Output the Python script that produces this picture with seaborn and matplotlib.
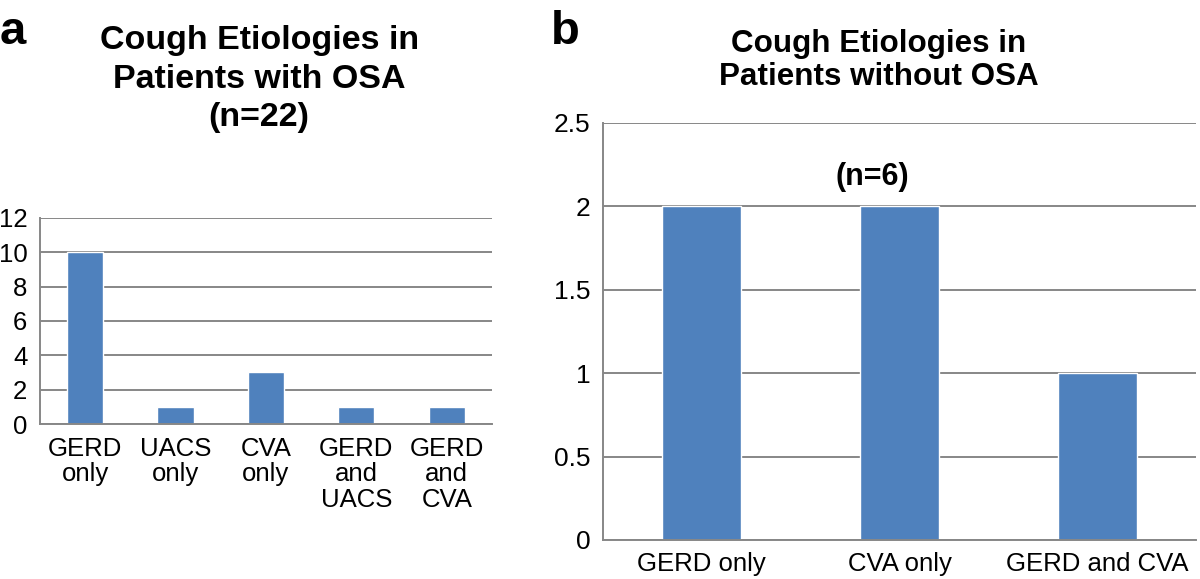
import matplotlib
matplotlib.use("Agg")
import matplotlib.pyplot as plt
import seaborn as sns
import pandas as pd

# panel a: patients with OSA (n=22)
osa_labels = ["GERD\nonly", "UACS\nonly", "CVA\nonly", "GERD\nand\nUACS", "GERD\nand\nCVA"]
osa_counts = [10, 1, 3, 1, 1]
osa_yticks = [0, 2, 4, 6, 8, 10, 12]

# panel b: patients without OSA (n=6)
non_osa_labels = ["GERD only", "CVA only", "GERD and CVA"]
non_osa_counts = [2, 2, 1]
non_osa_yticks = [0, 0.5, 1, 1.5, 2, 2.5]
non_osa_yticklabels = ["0", "0.5", "1", "1.5", "2", "2.5"]

BAR = "#4F81BD"
GRID = "#878787"

sns.set_style("white")
plt.rcParams["font.family"] = ["Liberation Sans", "DejaVu Sans"]
plt.rcParams["text.color"] = "black"
NARROW = ["Liberation Sans Narrow", "Liberation Sans", "DejaVu Sans"]

fig = plt.figure(figsize=(12, 5.79), dpi=100)
ax_a = fig.add_axes([0.0333, 0.2677, 0.3767, 0.3558])
ax_b = fig.add_axes([0.5025, 0.0674, 0.4942, 0.7202])

df_a = pd.DataFrame({"etiology": osa_labels, "count": osa_counts})
df_b = pd.DataFrame({"etiology": non_osa_labels, "count": non_osa_counts})

sns.barplot(data=df_a, x="etiology", y="count", color=BAR, width=0.4,
            saturation=1, ax=ax_a)
sns.barplot(data=df_b, x="etiology", y="count", color=BAR, width=0.4,
            saturation=1, ax=ax_b)

for ax in (ax_a, ax_b):
    ax.set_xlabel("")
    ax.set_ylabel("")
    ax.set_axisbelow(True)
    ax.yaxis.grid(True, color=GRID, lw=1.4)
    for s in ("top", "right"):
        ax.spines[s].set_visible(False)
    for s in ("left", "bottom"):
        ax.spines[s].set_color(GRID)
        ax.spines[s].set_linewidth(1.4)
    ax.tick_params(axis="y", length=6, width=1.3, color=GRID, pad=3,
                   labelcolor="black")
    ax.tick_params(axis="x", labelcolor="black")

# panel a axes
ax_a.set_xlim(-0.5, len(osa_labels) - 0.5)
ax_a.set_ylim(0, 12)
ax_a.set_yticks(osa_yticks)
ax_a.tick_params(axis="y", labelsize=18.5)
ax_a.tick_params(axis="x", length=0, pad=9)
ax_a.set_xticks(range(len(osa_labels)))
ax_a.set_xticklabels(osa_labels, fontsize=18.5, linespacing=1.1, va="top")

# panel b axes
ax_b.set_xlim(-0.5, len(non_osa_labels) - 0.5)
ax_b.set_ylim(0, 2.5)
ax_b.set_yticks(non_osa_yticks)
ax_b.set_yticklabels(non_osa_yticklabels, family=NARROW, fontsize=19)
ax_b.set_xticks(range(len(non_osa_labels)))
ax_b.set_xticklabels(non_osa_labels, family=NARROW, fontsize=18.5)
ax_b.set_xticks([i - 0.5 for i in range(len(non_osa_labels) + 1)], minor=True)
ax_b.tick_params(axis="x", which="major", length=0, pad=9)
ax_b.tick_params(axis="x", which="minor", length=8, width=1.3, color=GRID)
ax_b.text(0.454, 0.87, "(n=6)", transform=ax_b.transAxes, ha="center",
          va="center", fontsize=22, fontweight="bold", family=NARROW)

# titles and panel letters
fig.text(0.216, 0.957, "Cough Etiologies in\nPatients with OSA\n(n=22)",
         ha="center", va="top", fontsize=24.5, fontweight="bold", linespacing=1.32)
fig.text(0.732, 0.95, "Cough Etiologies in\nPatients without OSA",
         ha="center", va="top", fontsize=22.6, fontweight="bold", linespacing=1.14)
fig.text(0.0, 0.983, "a", ha="left", va="top", fontsize=34, fontweight="bold")
fig.text(0.459, 0.983, "b", ha="left", va="top", fontsize=34, fontweight="bold")

fig.savefig("out.png", dpi=100)
